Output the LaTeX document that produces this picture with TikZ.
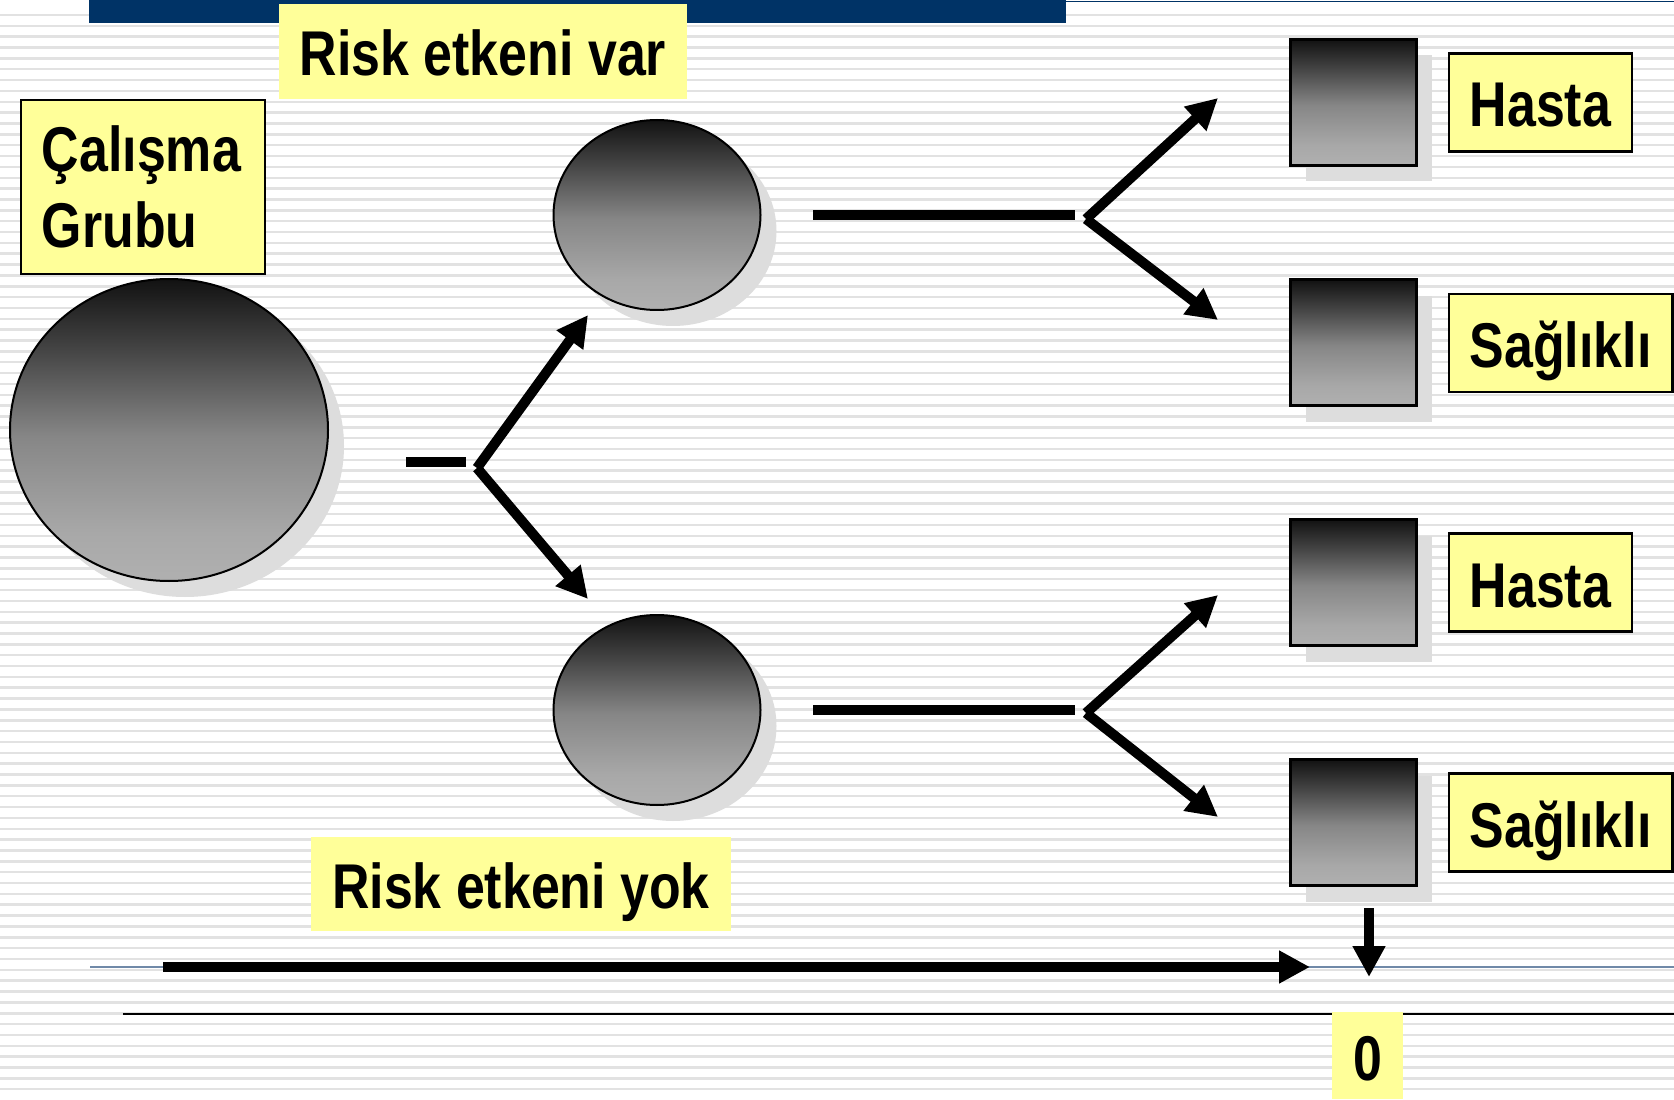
\documentclass[tikz,border=0pt]{standalone}
\usepackage{fontspec}
\setmainfont{Liberation Sans}[FakeStretch=0.82]
\usetikzlibrary{arrows.meta,positioning,shapes.geometric,shadows}

\definecolor{boxyellow}{HTML}{FFFF99}
\definecolor{shadowgray}{HTML}{DDDDDD}
\definecolor{stripegray}{HTML}{E2E2E2}
\definecolor{barblue}{HTML}{003366}
\definecolor{slateline}{HTML}{7089A8}
\definecolor{shadetop}{HTML}{121212}
\definecolor{shadeup}{HTML}{464646}
\definecolor{shademid}{HTML}{868686}
\definecolor{shadelow}{HTML}{A8A8A8}
\definecolor{shadebot}{HTML}{B0B0B0}
\pgfdeclareverticalshading{ballshade}{100bp}{color(0bp)=(shadebot); color(25bp)=(shadebot); color(33bp)=(shadelow); color(49bp)=(shademid); color(63bp)=(shadeup); color(75bp)=(shadetop); color(100bp)=(shadetop)}

\begin{document}
\begin{tikzpicture}[>={Triangle[length=0.31cm,width=0.31cm]},node distance=0.3cm,
    lbl/.style={fill=boxyellow,font=\bfseries\fontsize{18}{21.5}\selectfont,inner xsep=0.21cm,inner ysep=0pt,minimum height=0.98cm},
    one/.style={text height=0.49cm,text depth=0pt},
    framed/.style={lbl,draw=black,line width=0.025cm},
    shadowed/.style={drop shadow={shadow xshift=0.16cm,shadow yshift=-0.16cm,fill=shadowgray,opacity=1}},
    ball/.style={ellipse,draw=black,line width=0.02cm,shading=ballshade,inner sep=0pt,shadowed},
    cell/.style={rectangle,draw=black,line width=0.03cm,shading=ballshade,minimum size=1.26cm,inner sep=0pt,shadowed},
    flow/.style={line width=0.1cm},
    flowarrow/.style={flow,->}]
    \useasboundingbox (0,0) rectangle (16.74,10.99);
    \fill[white] (0,0) rectangle (16.74,10.99);
    \foreach \k in {0,...,99}
      \draw[stripegray,line width=0.025cm] (0,{10.84-0.1085*\k}) -- (16.74,{10.84-0.1085*\k});
    \fill[barblue] (0.89,10.76) rectangle (10.66,10.99);
    \draw[barblue,line width=0.015cm] (10.66,10.975) -- (16.74,10.975);

    % groups
    \node[ball,minimum width=3.18cm,minimum height=3.02cm] (G) at (1.69,6.69) {};
    \node[ball,minimum width=2.07cm,minimum height=1.90cm] (V) at (6.57,8.84) {};
    \node[ball,minimum width=2.07cm,minimum height=1.90cm] (Y) at (6.57,3.89) {};
    \node[framed,align=left,text width=2.02cm,minimum height=1.74cm] (GL) at (1.43,9.12) {Çalışma\\Grubu};
    \node[lbl,one,minimum height=0.95cm] (VL) at (4.83,10.475) {Risk etkeni var};
    \node[lbl,one,minimum height=0.94cm] (YL) at (5.21,2.15) {Risk etkeni yok};

    % outcomes
    \node[cell] (c1) at (13.53,9.965) {};
    \node[cell] (c2) at (13.53,7.56) {};
    \node[cell] (c3) at (13.53,5.165) {};
    \node[cell] (c4) at (13.53,2.765) {};
    \node[framed,one,right=of c1] (h1) {Hasta};
    \node[framed,one,right=of c2] (s1) {Sağlıklı};
    \node[framed,one,right=of c3] (h2) {Hasta};
    \node[framed,one,right=of c4] (s2) {Sağlıklı};

    \coordinate (a0) at (4.06,6.37);
    \coordinate (a1) at (4.66,6.37);
    \coordinate (af) at (4.77,6.31);
    \coordinate (av) at (5.88,7.84);
    \coordinate (ay) at (5.88,5.00);
    \draw[flow] (a0) -- (a1);
    \draw[flowarrow] (af) -- (av);
    \draw[flowarrow] (af) -- (ay);

    \coordinate (b0) at (8.13,8.84);
    \coordinate (b1) at (10.75,8.84);
    \coordinate (bf) at (10.86,8.80);
    \coordinate (bh) at (12.18,10.01);
    \coordinate (bs) at (12.18,7.79);
    \draw[flow] (b0) -- (b1);
    \draw[flowarrow] (bf) -- (bh);
    \draw[flowarrow] (bf) -- (bs);

    \coordinate (d0) at (8.13,3.89);
    \coordinate (d1) at (10.75,3.89);
    \coordinate (df) at (10.86,3.86);
    \coordinate (dh) at (12.18,5.04);
    \coordinate (ds) at (12.18,2.82);
    \draw[flow] (d0) -- (d1);
    \draw[flowarrow] (df) -- (dh);
    \draw[flowarrow] (df) -- (ds);

    % time axis
    \coordinate (L0) at (0.90,1.32);
    \coordinate (L1) at (16.74,1.32);
    \coordinate (T0) at (1.63,1.32);
    \coordinate (T1) at (13.10,1.32);
    \coordinate (Z0) at (1.23,0.85);
    \coordinate (Z1) at (16.74,0.85);
    \coordinate (D0) at (13.69,1.91);
    \coordinate (D1) at (13.69,1.22);
    \draw[slateline,line width=0.015cm] (L0) -- (L1);
    \draw[flowarrow] (T0) -- (T1);
    \draw[flowarrow] (D0) -- (D1);
    \draw[line width=0.02cm] (Z0) -- (Z1);
    \node[lbl,one,minimum width=0.67cm,minimum height=0.87cm] (zero) at (13.675,0.435) {0};
\end{tikzpicture}
\end{document}
